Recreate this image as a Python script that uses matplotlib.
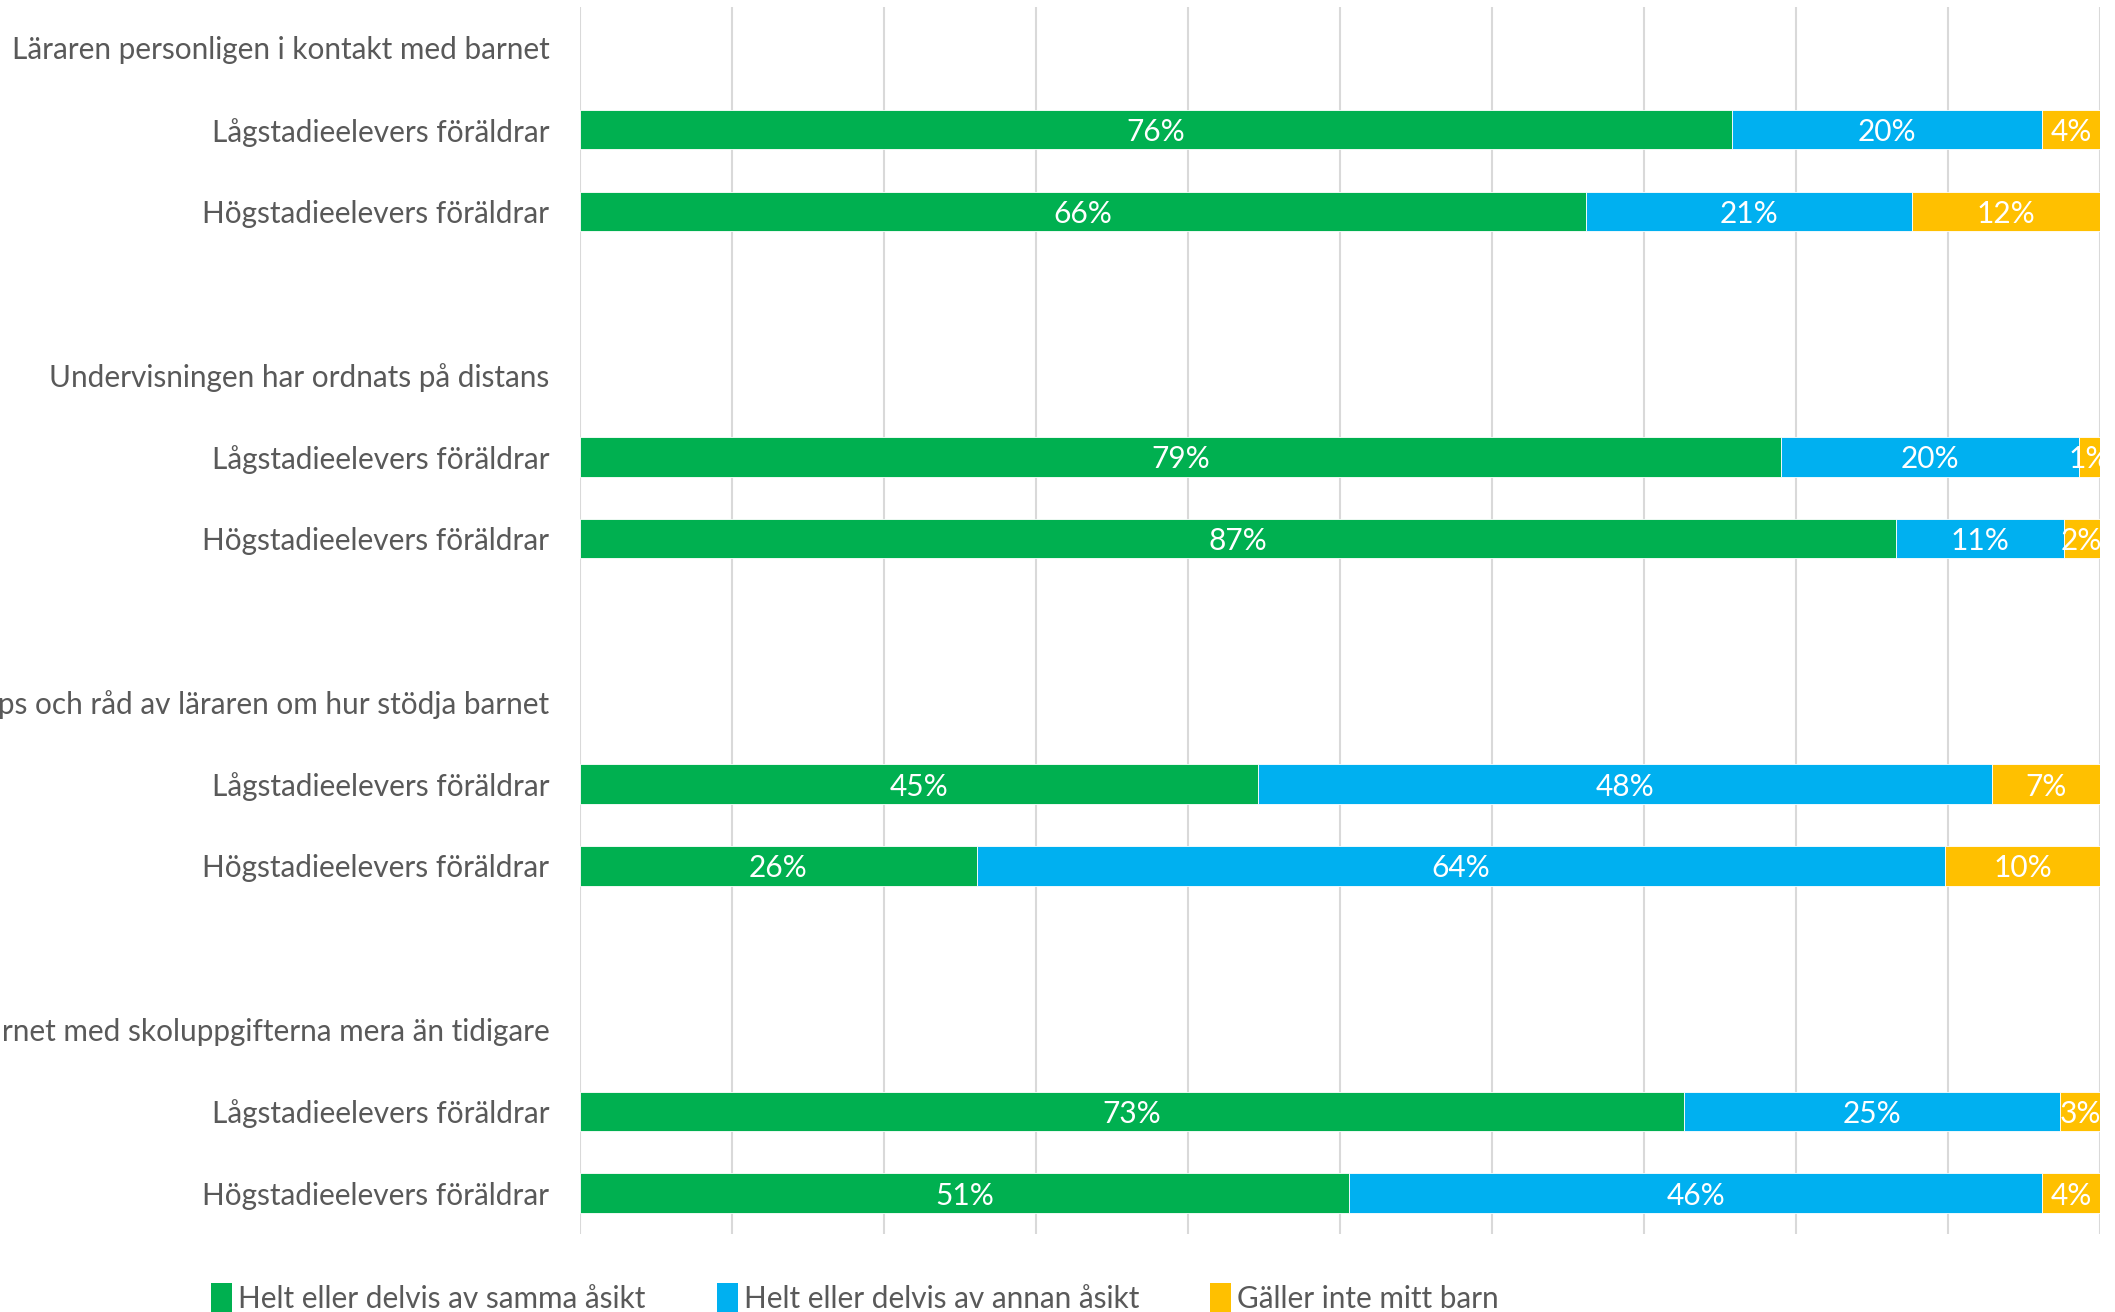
import numpy as np
import matplotlib.pyplot as plt
from matplotlib.patches import Patch

plt.rcParams['font.family'] = ['Lato', 'DejaVu Sans']

headers = ['Läraren personligen i kontakt med barnet',
           'Undervisningen har ordnats på distans',
           'Jag har fått tips och råd av läraren om hur stödja barnet',
           'Jag har hjälpt barnet med skoluppgifterna mera än tidigare']
groups = ['Lågstadieelevers föräldrar', 'Högstadieelevers föräldrar']
series = ['Helt eller delvis av samma åsikt', 'Helt eller delvis av annan åsikt', 'Gäller inte mitt barn']
colors = ['#00B050', '#00B0F0', '#FFC000']

# per bar (L, H for each header), in %
samma = [75.8, 66.2, 79.0, 86.6, 44.6, 26.1, 72.6, 50.6]
annan = [20.4, 21.4, 19.6, 11.0, 48.3, 63.7, 24.8, 45.6]
galler = [3.8, 12.4, 1.4, 2.4, 7.1, 10.2, 2.6, 3.8]

fig = plt.figure(figsize=(21.15, 13.12), dpi=100)
ax = fig.add_axes([580/2115, 1-1234/1312, 1520/2115, 1227/1312])

# row layout: header, L, H, blank
labels = []
bar_rows = []
row = 0
for i, h in enumerate(headers):
    labels.append((row, h))
    labels.append((row+1, groups[0]))
    labels.append((row+2, groups[1]))
    bar_rows += [row+1, row+2]
    row += 4

vals = np.array([samma, annan, galler])
left = np.zeros(len(bar_rows))
for k in range(3):
    ax.barh(bar_rows, vals[k], left=left, height=0.48, color=colors[k],
            edgecolor='white', linewidth=0.6, zorder=3)
    for y, l, v in zip(bar_rows, left, vals[k]):
        ax.text(l + v/2, y, f'{round(v)}%', ha='center', va='center_baseline',
                color='white', fontsize=21.5, zorder=4, clip_on=False)
    left += vals[k]

ax.set_yticks([r for r, _ in labels])
ax.set_yticklabels([t for _, t in labels], fontsize=21.4, color='#595959')
ax.tick_params(axis='y', length=0, pad=22)
ax.set_ylim(14.5, -0.5)
ax.set_xlim(0, 100)
ax.set_xticks(np.arange(0, 101, 10))
ax.tick_params(axis='x', length=0, labelbottom=False)
ax.grid(axis='x', color='#D9D9D9', linewidth=1.5, zorder=0)
for s in ax.spines.values():
    s.set_visible(False)

handles = [Patch(facecolor=c, label=s) for c, s in zip(colors, series)]
fig.legend(handles=handles, loc='center', bbox_to_anchor=(855/2115, 1-1298/1312),
           ncol=3, frameon=False, fontsize=21.4, labelcolor='#595959',
           handlelength=0.7, handleheight=1.1, handletextpad=0.2, columnspacing=2.4)

fig.savefig('out.png', dpi=100)
